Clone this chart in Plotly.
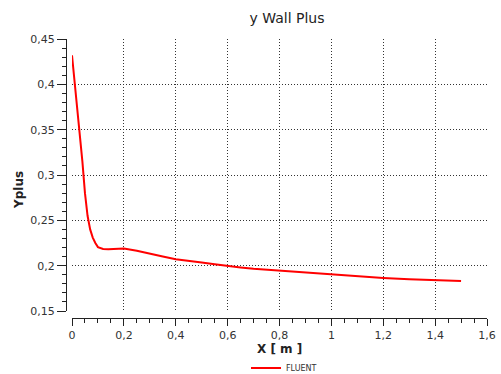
import plotly.graph_objects as go

# Wall y+ along the surface (FLUENT export)
x_m = [0.0, 0.02, 0.04, 0.05, 0.06, 0.07, 0.08, 0.09, 0.10, 0.12, 0.14, 0.16,
       0.18, 0.20, 0.25, 0.30, 0.35, 0.40, 0.45, 0.50, 0.55, 0.60, 0.65, 0.70,
       0.80, 0.90, 1.00, 1.10, 1.20, 1.30, 1.40, 1.50]
yplus = [0.432, 0.376, 0.315, 0.280, 0.255, 0.240, 0.231, 0.225, 0.2205, 0.2185,
         0.218, 0.2185, 0.219, 0.219, 0.2165, 0.213, 0.210, 0.207, 0.2055, 0.2035,
         0.2015, 0.1995, 0.198, 0.1965, 0.1945, 0.192, 0.1898, 0.188, 0.1865,
         0.185, 0.1842, 0.1830]

x_ticks = [0, 0.2, 0.4, 0.6, 0.8, 1.0, 1.2, 1.4, 1.6]
y_ticks = [0.15, 0.2, 0.25, 0.3, 0.35, 0.4, 0.45]

W, H = 501, 374
ML, MR, MT, MB = 66, 14, 39, 56
plot_w = W - ML - MR
plot_h = H - MT - MB

fig = go.Figure()
fig.add_trace(go.Scatter(x=x_m, y=yplus, mode="lines", name="FLUENT",
                         line=dict(color="#ff0000", width=2)))

tick_font = dict(family="DejaVu Sans", size=11, color="#333333")
label_font = dict(family="DejaVu Sans", size=12, color="#222222")
fig.update_layout(
    width=W, height=H,
    margin=dict(l=ML, r=MR, t=MT, b=MB, autoexpand=False),
    paper_bgcolor="white", plot_bgcolor="white",
    title=dict(text="y Wall Plus", x=287 / W, xref="container", xanchor="center",
               y=1 - 18 / H, yref="container", yanchor="middle",
               font=dict(family="DejaVu Sans", size=14, color="#222222")),
    showlegend=True,
    legend=dict(orientation="h", x=246 / W, xref="container", y=1 - 368 / H,
                yref="container", xanchor="left", yanchor="middle",
                font=dict(family="DejaVu Sans", size=8, color="#333333"),
                bgcolor="rgba(0,0,0,0)"),
    xaxis=dict(domain=[6 / plot_w, 1], range=[0, 1.6], anchor="free", position=0,
               automargin=False,
               tickvals=x_ticks,
               ticktext=[("%g" % v).replace(".", ",") for v in x_ticks],
               showline=True, linecolor="#222222", linewidth=1,
               ticks="outside", ticklen=7, tickcolor="#222222",
               minor=dict(dtick=0.05, ticks="outside", ticklen=4, tickcolor="#222222",
                          showgrid=False),
               showgrid=True, gridcolor="#333333", griddash="1px,2px", gridwidth=1,
               zeroline=False, tickfont=tick_font),
    yaxis=dict(domain=[7 / plot_h, 1], range=[0.15, 0.45], anchor="free", position=0,
               automargin=False,
               tickvals=y_ticks,
               ticktext=[("%g" % v).replace(".", ",") for v in y_ticks],
               showline=True, linecolor="#222222", linewidth=1,
               ticks="outside", ticklen=9, tickcolor="#222222",
               minor=dict(dtick=0.01, ticks="outside", ticklen=4, tickcolor="#222222",
                          showgrid=False),
               showgrid=True, gridcolor="#333333", griddash="1px,2px", gridwidth=1,
               zeroline=False, tickfont=tick_font),
)

# Axis titles placed in page pixels below / left of the detached axes
fig.add_annotation(text="<b>X [ m ]</b>", xref="paper", yref="paper",
                   x=(279 - ML) / plot_w, y=-(349 - (H - MB)) / plot_h,
                   xanchor="center", yanchor="middle", showarrow=False,
                   font=label_font)
fig.add_annotation(text="<b>Yplus</b>", xref="paper", yref="paper",
                   x=-(ML - 19) / plot_w, y=(H - MB - 190) / plot_h,
                   xanchor="center", yanchor="middle", textangle=-90,
                   showarrow=False, font=label_font)

fig.write_html("out.html")
